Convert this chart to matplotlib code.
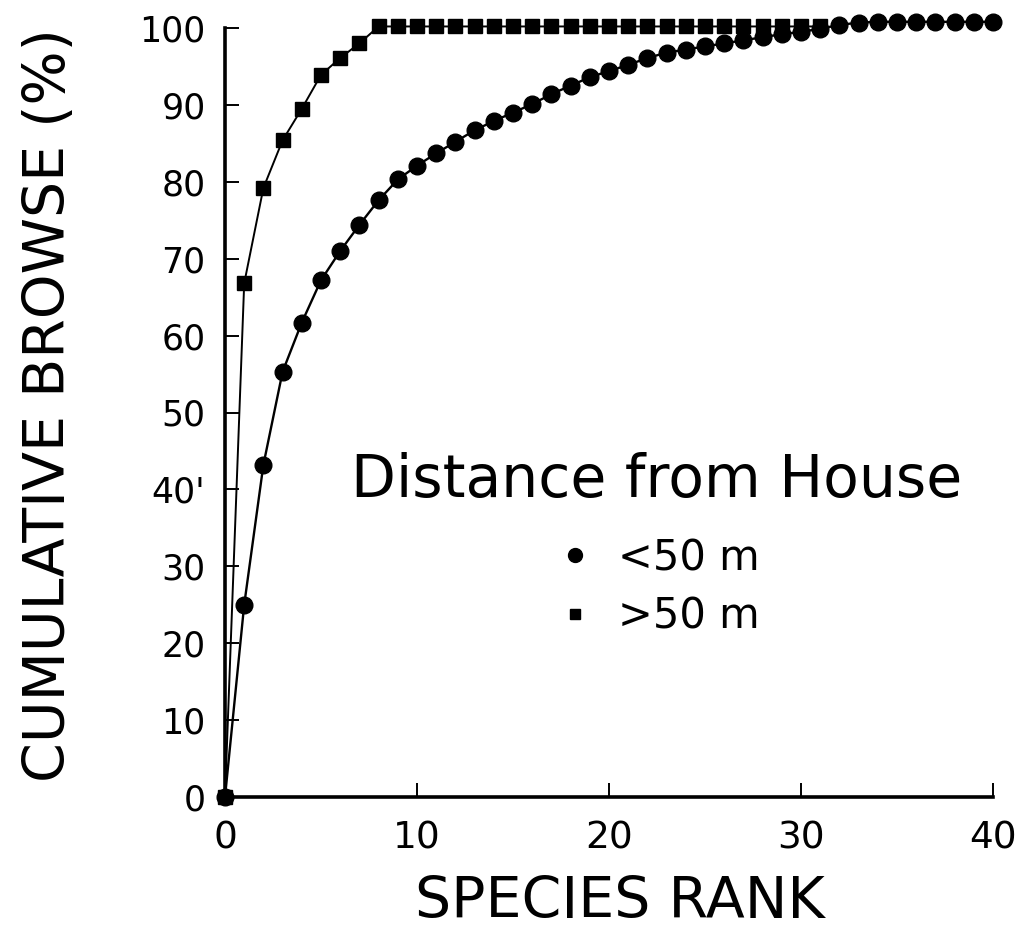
import matplotlib
matplotlib.use("Agg")
import matplotlib.pyplot as plt
from matplotlib.lines import Line2D

# Cumulative browse (%) by species rank, two distance classes
rank_near = list(range(0, 41))
browse_near = [0, 25.0, 43.2, 55.3, 61.7, 67.2, 71.0, 74.4, 77.6, 80.3,
               82.1, 83.7, 85.2, 86.7, 87.9, 89.0, 90.1, 91.4, 92.5, 93.6,
               94.4, 95.2, 96.1, 96.8, 97.2, 97.6, 98.0, 98.4, 98.8, 99.2,
               99.5, 99.9, 100.4, 100.7, 100.8, 100.8, 100.8, 100.8, 100.8,
               100.8, 100.8]

rank_far = list(range(0, 32))
browse_far = [0, 66.8, 79.2, 85.4, 89.5, 93.9, 96.1, 98.0] + [100.2] * 24

x_ticks = [0, 10, 20, 30, 40]
y_ticks = [0, 10, 20, 30, 40, 50, 60, 70, 80, 90, 100]
y_tick_labels = ["0", "10", "20", "30", "40'", "50", "60", "70", "80", "90", "100"]

plt.rcParams["font.family"] = ["DejaVu Sans"]

fig = plt.figure(figsize=(10.23, 9.49), dpi=100)
ax = fig.add_axes([225 / 1023, 1 - 797 / 949, 768 / 1023, 769 / 949])

ax.plot(rank_near, browse_near, color="black", lw=1.7, marker="o",
        ms=12, clip_on=False, zorder=3)
ax.plot(rank_far, browse_far, color="black", lw=1.4, marker="s",
        ms=9.5, clip_on=False, zorder=2)

ax.set_xlim(0, 40)
ax.set_ylim(0, 100)
ax.set_xticks(x_ticks)
ax.set_yticks(y_ticks)
ax.set_yticklabels(y_tick_labels)

for side in ("top", "right"):
    ax.spines[side].set_visible(False)
for side in ("left", "bottom"):
    ax.spines[side].set_linewidth(2.6)

ax.tick_params(axis="both", direction="in", length=10, width=1.4)
ax.tick_params(axis="y", labelsize=25, pad=14)
ax.tick_params(axis="x", labelsize=27, pad=17)

fig.text(50 / 1023, 1 - 405 / 949, "CUMULATIVE BROWSE (%)", rotation=90,
         ha="center", va="center", fontsize=41)
fig.text(620 / 1023, 1 - 902 / 949, "SPECIES RANK", ha="center",
         va="center", fontsize=41)

handles = [
    Line2D([], [], ls="none", marker="o", ms=10, color="black"),
    Line2D([], [], ls="none", marker="s", ms=7, color="black"),
]
leg = ax.legend(handles, ["<50 m", ">50 m"], title="Distance from House",
                loc="center", bbox_to_anchor=(657 / 1023, 1 - 545 / 949),
                bbox_transform=fig.transFigure, frameon=False,
                fontsize=30, title_fontsize=42, handletextpad=0.55,
                labelspacing=0.4, handlelength=1.0, borderaxespad=0)
leg._legend_box.sep = 20

fig.savefig("out.png", dpi=100)
